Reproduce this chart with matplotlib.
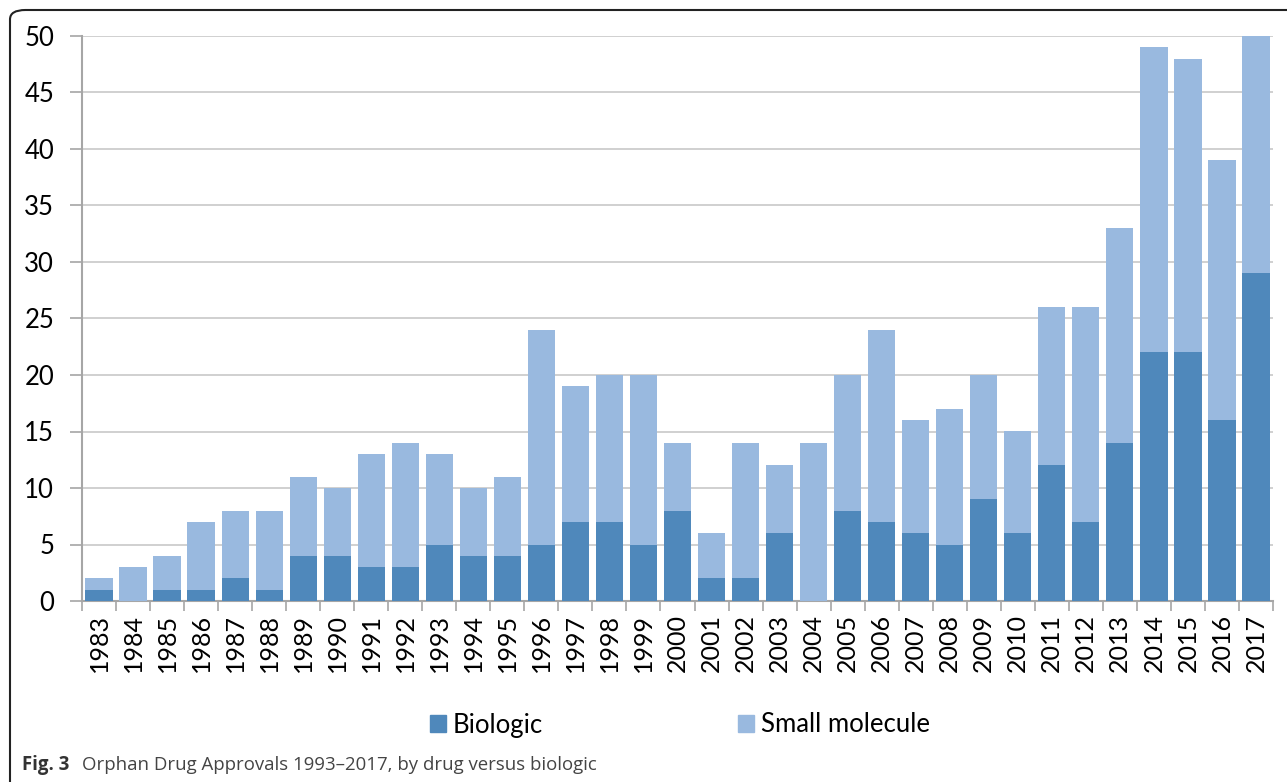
import matplotlib.pyplot as plt
from matplotlib.patches import FancyBboxPatch, Patch

years = [str(y) for y in range(1983, 2018)]
biologic = [1, 0, 1, 1, 2, 1, 4, 4, 3, 3, 5, 4, 4, 5, 7, 7, 5, 8, 2, 2,
            6, 0, 8, 7, 6, 5, 9, 6, 12, 7, 14, 22, 22, 16, 29]
totals = [2, 3, 4, 7, 8, 8, 11, 10, 13, 14, 13, 10, 11, 24, 19, 20, 20, 14, 6, 14,
          12, 14, 20, 24, 16, 17, 20, 15, 26, 26, 33, 49, 48, 39, 50]
small_molecule = [t - b for t, b in zip(totals, biologic)]

dark = '#4f88bb'
light = '#99b9df'
axis_grey = '#a6a6a6'

plt.rcParams['font.family'] = ['Lato', 'DejaVu Sans']

fig = plt.figure(figsize=(12.87, 7.82), dpi=100)

# rounded frame around the figure (right and bottom run off the edge)
frame = FancyBboxPatch((10 / 1287, -0.05), 1.2, 1 - 10 / 782 + 0.05,
                       boxstyle='round,pad=0,rounding_size=0.012',
                       transform=fig.transFigure, fill=False,
                       edgecolor='#222222', linewidth=1.5)
fig.patches.append(frame)

ax = fig.add_axes([82 / 1287, 1 - 601 / 782, (1273 - 82) / 1287, (601 - 36) / 782])

x = range(len(years))
ax.bar(x, biologic, width=0.8, color=dark, zorder=3)
ax.bar(x, small_molecule, width=0.8, bottom=biologic, color=light, zorder=3)

ax.set_xlim(-0.5, len(years) - 0.5)
ax.set_ylim(0, 50)
ax.set_yticks(range(0, 51, 5))
ax.yaxis.grid(True, color='#c8c8c8', linewidth=1.2, zorder=0)

ax.set_xticks(x)
ax.set_xticklabels(years, rotation=90, fontsize=18)
ax.set_xticks([i - 0.5 for i in range(len(years) + 1)], minor=True)
ax.tick_params(axis='x', which='major', length=0, pad=9)
ax.tick_params(axis='x', which='minor', length=7, color=axis_grey, width=1.2)
ax.tick_params(axis='y', length=9, color=axis_grey, width=1.2, labelsize=18.5, pad=11)

for s in ['top', 'right']:
    ax.spines[s].set_visible(False)
for s in ['left', 'bottom']:
    ax.spines[s].set_color(axis_grey)
    ax.spines[s].set_linewidth(1.5)

handles = [Patch(color=dark, label='Biologic'), Patch(color=light, label='Small molecule')]
fig.legend(handles=handles, loc='center', bbox_to_anchor=(680 / 1287, 1 - 725 / 782),
           ncol=2, frameon=False, fontsize=18.5, handlelength=0.62, handleheight=0.62,
           handletextpad=0.25, columnspacing=7.6)

fig.text(22 / 1287, 1 - 765 / 782, 'Fig. 3', fontsize=13.4, fontweight='bold',
         color='#333333', va='center', family='Open Sans')
fig.text(82 / 1287, 1 - 765 / 782, 'Orphan Drug Approvals 1993\u20132017, by drug versus biologic',
         fontsize=13.4, color='#444444', va='center', family='Open Sans')

fig.savefig('out.png', dpi=100)
